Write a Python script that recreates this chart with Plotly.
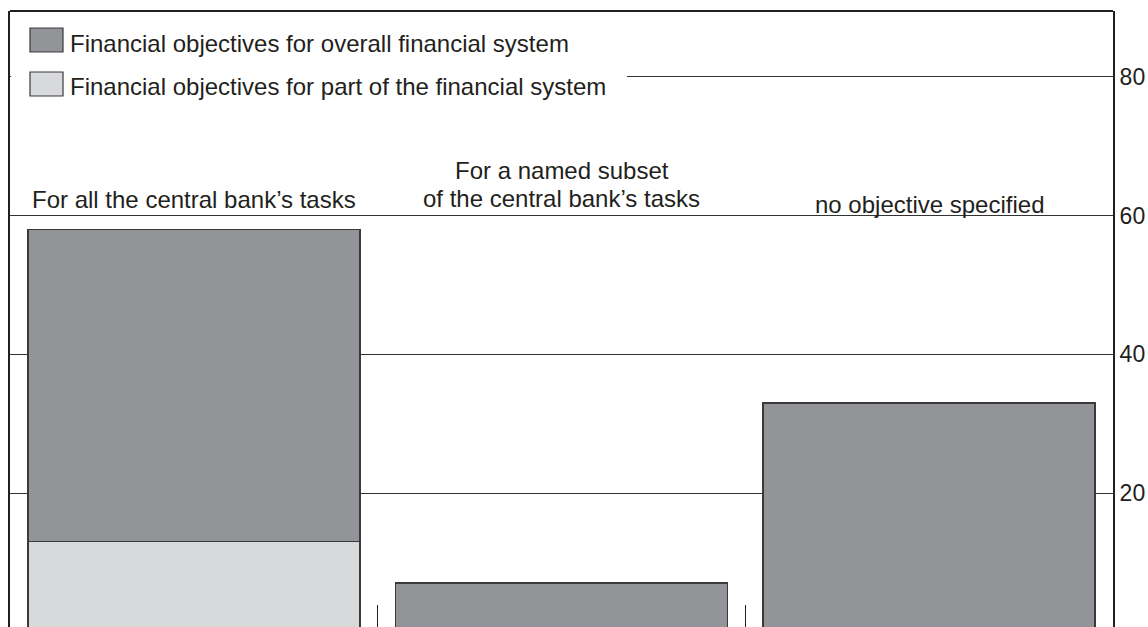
import plotly.graph_objects as go

# ---- data ----
categories = ["all_tasks", "subset_tasks", "no_objective"]
category_labels = [
    "For all the central bank’s tasks",
    "For a named subset<br>of the central bank’s tasks",
    "no objective specified",
]
overall_system = [45, 7, 33]        # dark grey (stacked on top)
part_system = [13, None, None]      # light grey (base)
series_names = [
    "Financial objectives for overall financial system",
    "Financial objectives for part of the financial system",
]
y_tickvals = [20, 40, 60, 80]

# ---- style ----
DARK = "#939498"
LIGHT = "#d8d9db"
INK = "#231f20"
EDGE = "#3a3a3c"
FONT = "Liberation Sans, Arial, sans-serif"

W, H = 1148, 627
# plot area in page pixels: x 10..1113, y 11..627
ML, MR, MT, MB = 10, 1148 - 1113, 11, 0
PW, PH = W - ML - MR, H - MT - MB

def px_x(x):
    return (x - ML) / PW

def px_y(y):
    return (H - MB - y) / PH

fig = go.Figure()
fig.add_trace(go.Bar(x=categories, y=part_system, name=series_names[1],
                     marker=dict(color=LIGHT, line=dict(color=EDGE, width=1.5)),
                     showlegend=False))
fig.add_trace(go.Bar(x=categories, y=overall_system, name=series_names[0],
                     marker=dict(color=DARK, line=dict(color=EDGE, width=1.5)),
                     showlegend=False))

shapes = []
# legend background (hides gridline)
shapes.append(dict(type="rect", xref="paper", yref="paper",
                   x0=0.001, x1=px_x(627), y0=px_y(112), y1=px_y(14),
                   fillcolor="white", line=dict(width=0), layer="above"))
# legend swatches
for (y0, y1), col in zip([(28, 52), (72, 96)], [DARK, LIGHT]):
    shapes.append(dict(type="rect", xref="paper", yref="paper",
                       x0=px_x(30), x1=px_x(63), y0=px_y(y1), y1=px_y(y0),
                       fillcolor=col, line=dict(color=EDGE, width=1.2), layer="above"))
# top frame line
shapes.append(dict(type="line", xref="paper", yref="paper", x0=0, x1=1, y0=1, y1=1,
                   line=dict(color=INK, width=2), layer="above"))

annotations = []
for name, yc in zip(series_names, [43, 87]):
    annotations.append(dict(xref="paper", yref="paper", x=px_x(68), y=px_y(yc),
                            xanchor="left", yanchor="middle", text=name, showarrow=False,
                            font=dict(size=24, color=INK, family=FONT)))
# category headings (one annotation per text line, centre y in page px)
label_centres = [[199], [171, 198], [204]]
for cat, lab, centres in zip(categories, category_labels, label_centres):
    for line, yc in zip(lab.split("<br>"), centres):
        annotations.append(dict(x=cat, y=px_y(yc), xref="x", yref="paper", text=line,
                                showarrow=False, xanchor="center", yanchor="middle",
                                font=dict(size=24, color=INK, family=FONT)))

fig.update_layout(
    template="none",
    width=W, height=H, autosize=False,
    margin=dict(l=ML, r=MR, t=MT, b=MB, pad=0, autoexpand=False),
    paper_bgcolor="white", plot_bgcolor="white",
    barmode="stack", bargap=0.097,
    showlegend=False,
    shapes=shapes, annotations=annotations,
    font=dict(family=FONT, color=INK),
)
fig.update_xaxes(type="category", categoryorder="array", categoryarray=categories,
                 range=[-0.5, 2.5], showgrid=False, showline=False, zeroline=False,
                 showticklabels=False, ticks="inside", tickson="boundaries",
                 ticklen=22, tickwidth=1.2, tickcolor=INK, automargin=False)
fig.update_yaxes(side="right", range=[0.68, 89.5], tickvals=y_tickvals,
                 showgrid=True, gridcolor="#333333", gridwidth=1.1,
                 showline=True, mirror=True, linecolor=INK, linewidth=2,
                 zeroline=False, ticks="", ticklen=0, ticklabelstandoff=0,
                 automargin=False,
                 tickfont=dict(size=23, color=INK, family=FONT))

fig.write_html(
    "out.html",
    config={"displayModeBar": False},
    post_script="document.body.style.margin='0';document.body.style.overflow='hidden';",
)
